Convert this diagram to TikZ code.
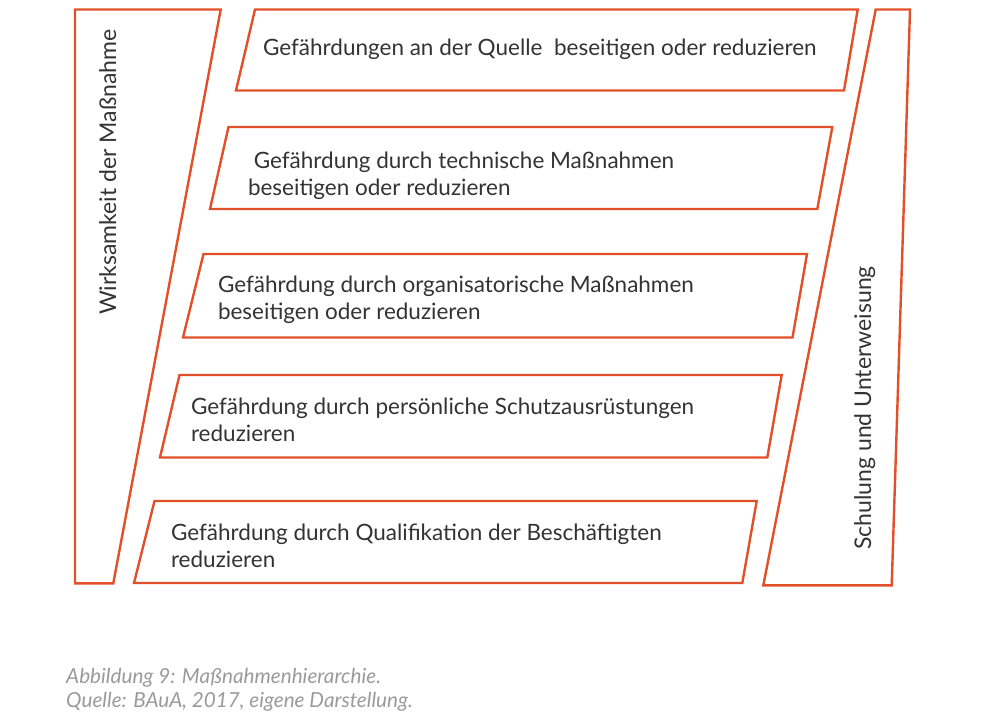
\documentclass[tikz,border=0pt]{standalone}
\usepackage{fontspec}
\setmainfont{Lato}
\usepackage{tikz}
\definecolor{borange}{HTML}{E2502A}
\definecolor{btext}{HTML}{333333}
\definecolor{bcaption}{HTML}{9A9A9A}
\tikzset{
  measureFrame/.style={%
    draw=borange,
    line width=2.4pt,
    line join=miter},
  measureText/.style={%
    anchor=base west,
    align=left,
    inner sep=0pt,
    outer sep=0pt,
    text=btext,
    font=\fontsize{22.5}{26.5}\selectfont},
  sideText/.style={%
    anchor=base,
    rotate=90,
    inner sep=0pt,
    text=btext,
    font=\fontsize{23}{26}\selectfont},
  captionText/.style={%
    anchor=base west,
    align=left,
    inner sep=0pt,
    text=bcaption,
    font=\itshape\fontsize{20.7}{23.4}\selectfont},
  }

\begin{document}
\begin{tikzpicture}[x=1pt,y=-1pt]
  \useasboundingbox (0,0) rectangle (1000,724);
  % side frames
  \draw[measureFrame] (75,9.5) -- (220.7,9.5) -- (113.3,583.3) -- (75,583.3) -- cycle;
  \draw[measureFrame] (875.7,9.5) -- (910,9.5) -- (891.7,585.3) -- (763.3,585.3) -- cycle;
  % the five measures
  \foreach \tl/\tr/\br/\bl/\top/\bot in {
      255/857.7/844/236/9.5/90.5,
      228.5/832.3/817.3/210/127/209,
      203.5/807/792.5/183/254/337.5,
      179.5/781.7/767.3/160/375/457.5,
      154.5/756.7/742.3/134/501/583}
    \draw[measureFrame] (\tl,\top) -- (\tr,\top) -- (\br,\bot) -- (\bl,\bot) -- cycle;
  % two-line labels sit on the baseline of their last line
  \node[measureText] (measure 1) at (263,55) {Gefährdungen an der Quelle\ \ beseitigen oder reduzieren};
  \node[measureText] (measure 2) at (248,195) {\ Gefährdung durch technische Maßnahmen\\beseitigen oder reduzieren};
  \node[measureText] (measure 3) at (218,319) {Gefährdung durch organisatorische Maßnahmen\\beseitigen oder reduzieren};
  \node[measureText] (measure 4) at (191,441) {Gefährdung durch persönliche Schutzausrüstungen\\reduzieren};
  \node[measureText] (measure 5) at (171,567) {Gefährdung durch Qualifikation der Beschäftigten\\reduzieren};
  % side labels
  \node[sideText] (effect) at (116,172) {Wirksamkeit der Maßnahme};
  \node[sideText] (training) at (871,408) {Schulung und Unterweisung};
  % caption
  \node[captionText] (caption) at (66,707) {Abbildung 9: Maßnahmenhierarchie.\\Quelle: BAuA, 2017, eigene Darstellung.};
\end{tikzpicture}
\end{document}
